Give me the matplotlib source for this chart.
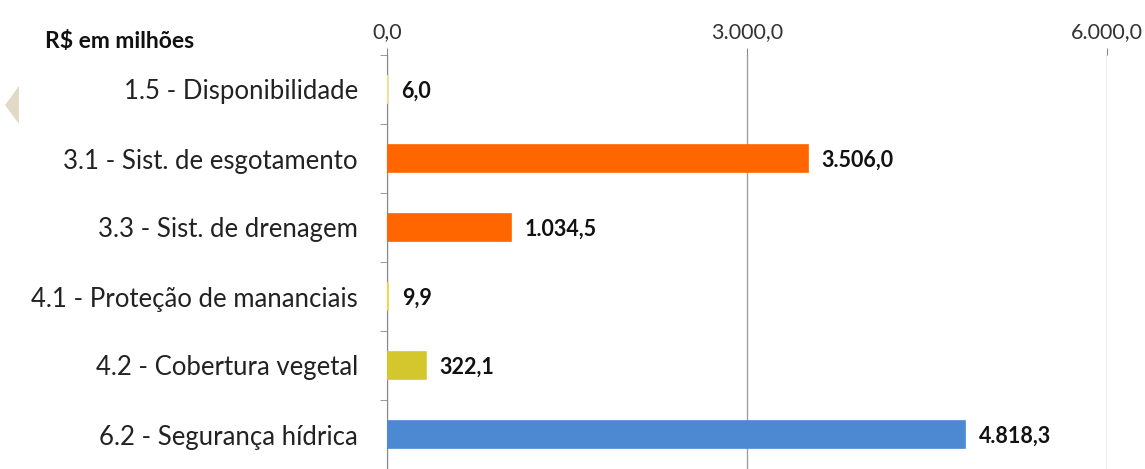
import matplotlib.pyplot as plt
from matplotlib.patches import Polygon

categorias = ['1.5 - Disponibilidade', '3.1 - Sist. de esgotamento', '3.3 - Sist. de drenagem',
              '4.1 - Proteção de mananciais', '4.2 - Cobertura vegetal', '6.2 - Segurança hídrica']
valores = [6.0, 3506.0, 1034.5, 9.9, 322.1, 4818.3]
cores = ['#F3DE9A', '#FF6600', '#FF6600', '#E8DA45', '#D4C72E', '#4D88D2']
ticks_x = [0, 3000, 6000]


def fmt_br(v):
    s = f'{v:,.1f}'
    return s.replace(',', 'X').replace('.', ',').replace('X', '.')


fonte = ['Lato', 'DejaVu Sans']
plt.rcParams['font.family'] = fonte

fig = plt.figure(figsize=(11.45, 4.69), dpi=100)
ax = fig.add_axes([387 / 1145, 0.0, 720 / 1145, 414 / 469])

pos = list(range(len(categorias)))
ax.barh(pos, valores, height=0.39, color=cores, edgecolor=cores, linewidth=1.2, zorder=3)

for p, v in zip(pos, valores):
    ax.annotate(fmt_br(v), (v, p + 0.02), xytext=(10, 0), textcoords='offset points',
                ha='left', va='center', fontsize=15.5, fontweight='bold', color='#111111')

ax.set_xlim(0, 6000)
ax.set_ylim(5.5, -0.5)
ax.xaxis.tick_top()
ax.set_xticks(ticks_x)
ax.set_xticklabels([fmt_br(t) for t in ticks_x], fontsize=15.5, color='#333333')
ax.tick_params(axis='x', length=5, color='#888888', pad=4)
ax.grid(axis='x', color='#A0A0A0', linewidth=1, zorder=0)

ax.set_yticks(pos)
ax.set_yticklabels(categorias, fontsize=18.5, color='#222222')
ax.tick_params(axis='y', which='major', length=0, pad=21)
ax.set_yticks([p - 0.5 for p in pos] + [5.5], minor=True)
ax.tick_params(axis='y', which='minor', length=5, color='#888888')

for s in ['top', 'right', 'bottom']:
    ax.spines[s].set_visible(False)
ax.spines['left'].set_color('#888888')

fig.text(45 / 1145, 1 - 42 / 469, 'R$ em milhões', fontsize=16.5, fontweight='bold',
         ha='left', va='center', color='#111111')

# detalhe decorativo à esquerda
fig.patches.append(Polygon([(19 / 1145, 1 - 86 / 469), (5 / 1145, 1 - 105 / 469),
                            (19 / 1145, 1 - 124 / 469)], closed=True,
                           transform=fig.transFigure, facecolor='#E2DAC6', edgecolor='none'))

fig.savefig('out.png', dpi=100)
